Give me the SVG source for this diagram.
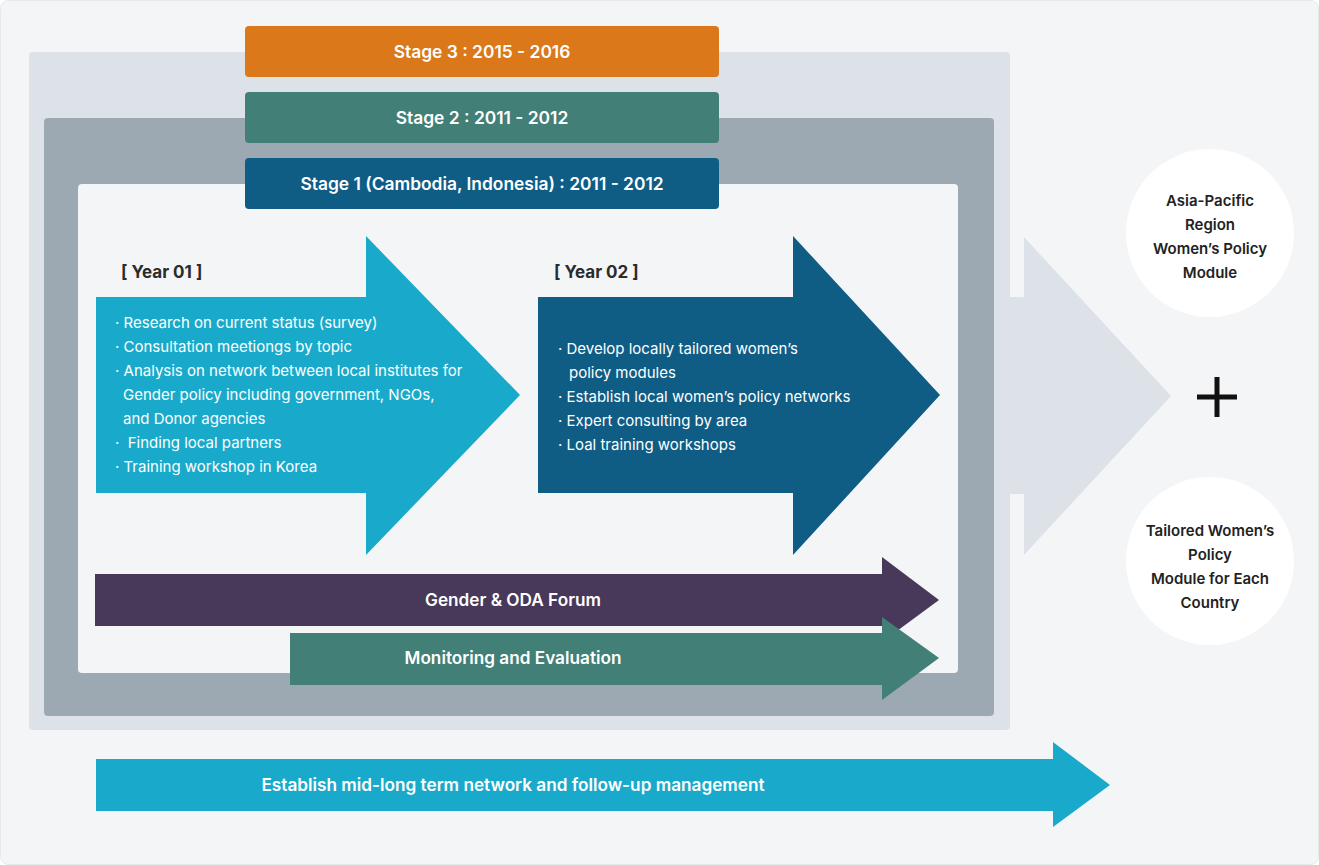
<svg xmlns="http://www.w3.org/2000/svg" width="1319" height="865" viewBox="0 0 1319 865">
<style>
.t{font-family:Inter,"Noto Sans","Liberation Sans",sans-serif}
.stage{font-size:17.4px;font-weight:600;fill:#fff;text-anchor:middle}
.yr{font-size:17px;font-weight:700;fill:#2b2b2b}
.li{font-size:15px;fill:#fff}
.bar{font-size:17.2px;font-weight:600;fill:#fff;text-anchor:middle}
.out{font-size:15px;font-weight:600;fill:#222;text-anchor:middle}
</style>
<rect x="0.5" y="0.5" width="1318" height="864" rx="8" fill="#f4f5f7" stroke="#e6e8ec"/>
<g id="panels">
<rect x="29" y="52" width="981" height="678" rx="4" fill="#dde1e8"/>
<rect x="44" y="118" width="950" height="598" rx="4" fill="#9ca9b3"/>
<rect x="78" y="184" width="880" height="489" rx="4" fill="#f4f5f7"/>
</g>
<g id="result-arrow"><polygon points="1010,297 1024,297 1024,237 1171,396 1024,555 1024,494 1010,494" fill="#dde1e8"/></g>
<g id="stage3"><rect x="245" y="26" width="474" height="51" rx="4" fill="#db7819"/><text class="t stage" x="482" y="58">Stage 3 : 2015 - 2016</text></g>
<g id="stage2"><rect x="245" y="92" width="474" height="51" rx="4" fill="#417f77"/><text class="t stage" x="482" y="124">Stage 2 : 2011 - 2012</text></g>
<g id="stage1"><rect x="245" y="158" width="474" height="51" rx="4" fill="#0f5c85"/><text class="t stage" x="482" y="190">Stage 1 (Cambodia, Indonesia) : 2011 - 2012</text></g>
<g id="year01">
<polygon points="96,297 366,297 366,236 520,395 366,555 366,493 96,493" fill="#19aacb"/>
<text class="t yr" x="121" y="278">[ Year 01 ]</text>
<text class="t li" x="115" y="328">· Research on current status (survey)</text>
<text class="t li" x="115" y="352">· Consultation meetiongs by topic</text>
<text class="t li" x="115" y="376">· Analysis on network between local institutes for</text>
<text class="t li" x="123" y="400">Gender policy including government, NGOs,</text>
<text class="t li" x="123" y="424">and Donor agencies</text>
<text class="t li" x="115" y="448">· &#160;Finding local partners</text>
<text class="t li" x="115" y="472">· Training workshop in Korea</text>
</g>
<g id="year02">
<polygon points="538,297 793,297 793,236 940,395 793,555 793,493 538,493" fill="#0f5c85"/>
<text class="t yr" x="554" y="278">[ Year 02 ]</text>
<text class="t li" x="558" y="354">· Develop locally tailored women’s</text>
<text class="t li" x="569" y="378">policy modules</text>
<text class="t li" x="558" y="402">· Establish local women’s policy networks</text>
<text class="t li" x="558" y="426">· Expert consulting by area</text>
<text class="t li" x="558" y="450">· Loal training workshops</text>
</g>
<g id="forum"><polygon points="95,574 882,574 882,557 939,600 882,642 882,626 95,626" fill="#48385a"/><text class="t bar" x="513" y="606">Gender &amp; ODA Forum</text></g>
<g id="monitoring"><polygon points="290,633 882,633 882,617 939,658 882,700 882,685 290,685" fill="#417f77"/><text class="t bar" x="513" y="664">Monitoring and Evaluation</text></g>
<g id="network"><polygon points="96,759 1053,759 1053,742 1110,785 1053,827 1053,811 96,811" fill="#19aacb"/><text class="t bar" x="513" y="791">Establish mid-long term network and follow-up management</text></g>
<g id="out1"><circle cx="1210" cy="233" r="84" fill="#fff"/>
<text class="t out" x="1210" y="206">Asia-Pacific</text><text class="t out" x="1210" y="230">Region</text><text class="t out" x="1210" y="254">Women’s Policy</text><text class="t out" x="1210" y="278">Module</text></g>
<g id="plus"><path d="M1197,397H1237M1217,377V417" stroke="#111" stroke-width="5"/></g>
<g id="out2"><circle cx="1210" cy="561" r="84" fill="#fff"/>
<text class="t out" x="1210" y="536">Tailored Women’s</text><text class="t out" x="1210" y="560">Policy</text><text class="t out" x="1210" y="584">Module for Each</text><text class="t out" x="1210" y="608">Country</text></g>
</svg>
